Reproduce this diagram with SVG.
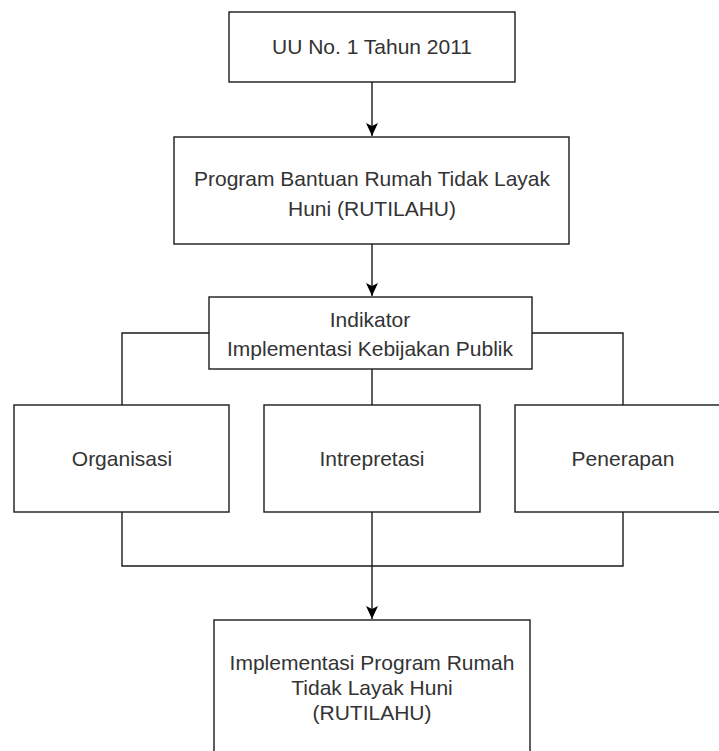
<svg xmlns="http://www.w3.org/2000/svg" width="719" height="751" viewBox="0 0 719 751">
<style>
.box{fill:#fff;stroke:#1a1a1a;stroke-width:1.4}
.t{font-family:"Liberation Sans",Arial,sans-serif;font-size:21px;fill:#333;text-anchor:middle}
.c{fill:none;stroke:#1a1a1a;stroke-width:1.4}
</style>
<defs>
<marker id="ah" markerUnits="userSpaceOnUse" markerWidth="14" markerHeight="14" viewBox="0 0 14 14" refX="13" refY="7" orient="auto">
<path d="M0,1 L13,7 L0,13 L3,7 z" fill="#000"/>
</marker>
</defs>
<rect width="719" height="751" fill="#fff"/>
<g id="connectors">
<path class="c" d="M372,82 V136" marker-end="url(#ah)"/>
<path class="c" d="M372,244 V296" marker-end="url(#ah)"/>
<path class="c" d="M372,369 V405"/>
<path class="c" d="M209,333 H122 V405"/>
<path class="c" d="M532,333 H623 V405"/>
<path class="c" d="M122,512 V566 H623 V512"/>
<path class="c" d="M372,512 V619" marker-end="url(#ah)"/>
</g>
<g id="uu">
<rect class="box" x="229" y="12" width="286" height="70"/>
<text class="t" x="372" y="54">UU No. 1 Tahun 2011</text>
</g>
<g id="program">
<rect class="box" x="174" y="137" width="395" height="107"/>
<text class="t" x="372" y="186">Program Bantuan Rumah Tidak Layak</text>
<text class="t" x="372" y="216">Huni (RUTILAHU)</text>
</g>
<g id="indikator">
<rect class="box" x="209" y="297" width="323" height="72"/>
<text class="t" x="370" y="327">Indikator</text>
<text class="t" x="370" y="356">Implementasi Kebijakan Publik</text>
</g>
<g id="organisasi">
<rect class="box" x="14" y="405" width="215" height="107"/>
<text class="t" x="122" y="466">Organisasi</text>
</g>
<g id="intrepretasi">
<rect class="box" x="264" y="405" width="216" height="107"/>
<text class="t" x="372" y="466">Intrepretasi</text>
</g>
<g id="penerapan">
<rect class="box" x="515" y="405" width="216" height="107"/>
<text class="t" x="623" y="466">Penerapan</text>
</g>
<g id="implementasi">
<rect class="box" x="214" y="620" width="316" height="150"/>
<text class="t" x="372" y="670">Implementasi Program Rumah</text>
<text class="t" x="372" y="695">Tidak Layak Huni</text>
<text class="t" x="372" y="720">(RUTILAHU)</text>
</g>
</svg>
